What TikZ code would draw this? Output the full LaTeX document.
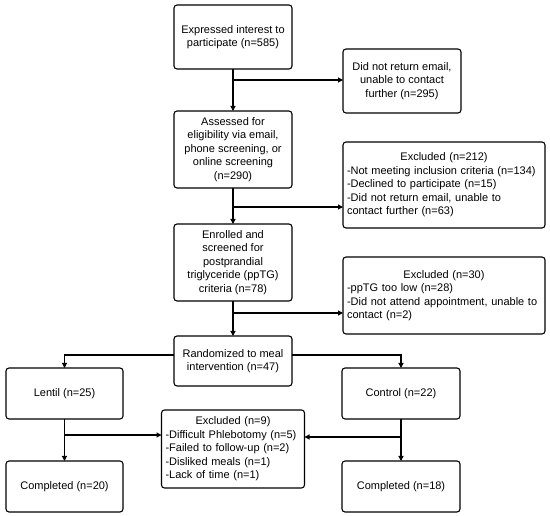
\documentclass[tikz,border=0pt]{standalone}
\usepackage{fontspec}
\setmainfont{Liberation Sans}
\usetikzlibrary{positioning,arrows.meta}

\newcommand{\exhead}[1]{\makebox[\linewidth]{#1}}

\begin{document}
\begin{tikzpicture}[
node distance=1.2cm,
font=\fontsize{11}{13.5}\selectfont,
box/.style={
    rectangle,
    rounded corners=3pt,
    minimum width=118pt,
    minimum height=64pt,
    draw=black,
    line width=1.1pt,
    outer sep=0pt,
    align=center
},
exbox/.style={
    box,
    align=left,
    text width=194pt,
    inner xsep=4pt
},
line/.style={
    -{Triangle[length=5pt,width=5pt]},
    line width=1.1pt
}
]
\useasboundingbox (0pt,0pt) rectangle (550pt,-516pt);

% Main Flow
\node[box] (interest) at (233pt,-37pt) {Expressed interest to\\participate (n=585)};

\node[box,minimum height=77pt,below=42pt of interest] (assessed)
{Assessed for\\eligibility via email,\\phone screening, or\\online screening\\(n=290)};

\node[box,minimum height=77pt,below=36pt of assessed] (enrolled)
{Enrolled and\\screened for\\postprandial\\triglyceride (ppTG)\\criteria (n=78)};

\node[box,minimum height=50pt,below=35pt of enrolled] (random)
{Randomized to meal\\intervention (n=47)};

% Exclusions
\node[box,below right=44pt and 51pt of interest.north east] (noemail)
{Did not return email,\\unable to contact\\further (n=295)};

\node[exbox,minimum height=86pt,below right=31pt and 51pt of assessed.north east] (excl1)
{\exhead{Excluded (n=212)}\\-Not meeting inclusion criteria (n=134)\\-Declined to participate (n=15)\\-Did not return email, unable to\\contact further (n=63)};

\node[exbox,minimum height=77pt,below right=33pt and 51pt of enrolled.north east] (excl2)
{\exhead{Excluded (n=30)}\\-ppTG too low (n=28)\\-Did not attend appointment, unable to\\contact (n=2)};

% Arms
\node[box,minimum width=117pt,minimum height=51pt,below left=32pt and 51pt of random.north west] (lentil)
{Lentil (n=25)};

\node[box,minimum height=51pt,below right=32pt and 50pt of random.north east] (control)
{Control (n=22)};

\node[exbox,minimum height=78pt,text width=135pt,below=24pt of random] (excl3)
{\exhead{Excluded (n=9)}\\-Difficult Phlebotomy (n=5)\\-Failed to follow-up (n=2)\\-Disliked meals (n=1)\\-Lack of time (n=1)};

\node[box,minimum width=117pt,minimum height=51pt,below=42pt of lentil] (done1)
{Completed (n=20)};

\node[box,minimum height=51pt,below=42pt of control] (done2)
{Completed (n=18)};

% Connections
\coordinate[below=11pt of interest.south] (split1);
\coordinate[below=19pt of assessed.south] (split2);
\coordinate[below=12pt of enrolled.south] (split3);
\coordinate[below=16pt of lentil.south] (split4);
\coordinate[below=18pt of control.south] (split5);

\draw[line] (interest) -- (assessed);
\draw[line] (assessed) -- (enrolled);
\draw[line] (enrolled) -- (random);

\draw[line] (split1) -- (split1 -| noemail.west);
\draw[line] (split2) -- (split2 -| excl1.west);
\draw[line] (split3) -- (split3 -| excl2.west);

\draw[line] ([yshift=6pt]random.west) -| (lentil.north);
\draw[line] ([yshift=6pt]random.east) -| (control.north);

\draw[line] (lentil) -- (done1);
\draw[line] (control) -- (done2);

\draw[line] (split4) -- (split4 -| excl3.west);
\draw[line] (split5) -- (split5 -| excl3.east);

\end{tikzpicture}
\end{document}
